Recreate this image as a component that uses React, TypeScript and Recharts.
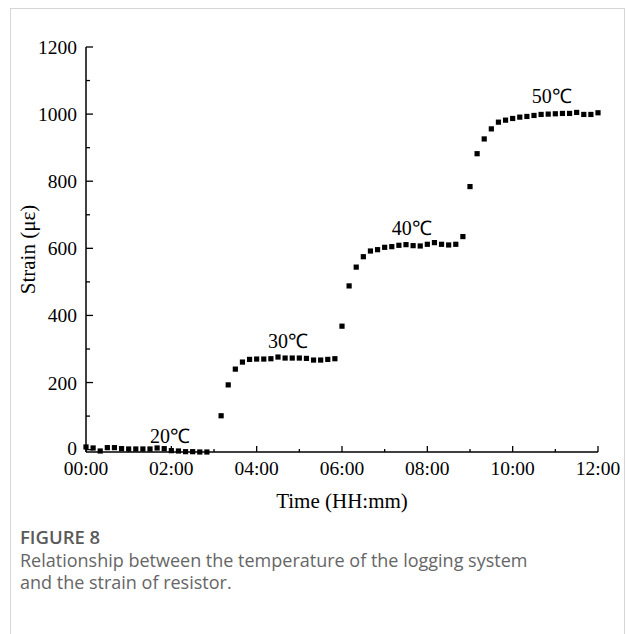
import React from "react";
import {
  ScatterChart,
  Scatter,
  XAxis,
  YAxis,
  ReferenceDot,
} from "recharts";

// time in minutes since 00:00 (the 03:00 reading is missing in the figure)
const timeMin = [
  0, 10, 20, 30, 40, 50, 60, 70, 80, 90, 100, 110, 120, 130, 140, 150, 160, 170,
  190, 200, 210, 220, 230, 240, 250, 260, 270, 280, 290, 300, 310, 320, 330, 340,
  350, 360, 370, 380, 390, 400, 410, 420, 430, 440, 450, 460, 470, 480, 490, 500,
  510, 520, 530, 540, 550, 560, 570, 580, 590, 600, 610, 620, 630, 640, 650, 660,
  670, 680, 690, 700, 710, 720,
];

const strain = [
  8, 5, -4, 6, 6, 3, 2, 2, 2, 2, 5, 3, -3, -4, -6, -6, -7, -7,
  101, 193, 240, 261, 269, 270, 270, 271, 276, 273, 273, 273, 272, 267, 267, 269,
  271, 368, 488, 544, 575, 592, 596, 603, 605, 609, 611, 608, 607, 612, 617, 612,
  610, 612, 635, 784, 882, 926, 956, 976, 982, 987, 991, 993, 996, 999, 1000, 1001,
  1002, 1002, 1005, 999, 999, 1004,
];

const xTicks = [0, 60, 120, 180, 240, 300, 360, 420, 480, 540, 600, 660, 720];
const yTicks = [0, 100, 200, 300, 400, 500, 600, 700, 800, 900, 1000, 1100, 1200];

const tempLabels = ["20\u2103", "30\u2103", "40\u2103", "50\u2103"];
const tempLabelX = [118, 284, 458, 655];
const tempLabelY = [42, 323, 661, 1055];

const points = timeMin.map((t, i) => ({ t, s: strain[i] }));

const serif = "'Liberation Serif', 'Times New Roman', serif";

const fmtTime = (m: number) => {
  const h = Math.floor(m / 60);
  const mm = m % 60;
  return `${String(h).padStart(2, "0")}:${String(mm).padStart(2, "0")}`;
};

const XTick = (props: any) => {
  const { x, y, payload } = props;
  const major = payload.value % 120 === 0;
  return (
    <g>
      <line x1={x} x2={x} y1={y} y2={y - (major ? 6 : 3)} stroke="#000" strokeWidth={1.3} />
      {major && (
        <text x={x} y={y + 23} textAnchor="middle" fontSize={19.5} fontFamily={serif} fill="#000">
          {fmtTime(payload.value)}
        </text>
      )}
    </g>
  );
};

const YTick = (props: any) => {
  const { x, y, payload } = props;
  const major = payload.value % 200 === 0;
  return (
    <g>
      <line x1={x} x2={x + (major ? 7 : 4)} y1={y} y2={y} stroke="#000" strokeWidth={1.3} />
      {major && (
        <text
          x={x - 9}
          y={y + (payload.value === 0 ? 5 : 7)}
          textAnchor="end"
          fontSize={19.5}
          fontFamily={serif}
          fill="#000"
        >
          {payload.value}
        </text>
      )}
    </g>
  );
};

const SquareDot = (props: any) => {
  const { cx, cy } = props;
  return <rect x={cx - 2.6} y={cy - 2.6} width={5.2} height={5.2} fill="#000" />;
};

export default function App() {
  return (
    <div
      style={{
        position: "absolute",
        left: 0,
        top: 0,
        width: 628,
        height: 634,
        overflow: "hidden",
        background: "#fff",
      }}
    >
      <div
        style={{
          position: "absolute",
          left: 10,
          top: 8,
          width: 613,
          height: 660,
          border: "1px solid #d6d6d6",
        }}
      />
      <div style={{ position: "absolute", left: 0, top: 0 }}>
        <ScatterChart
          width={628}
          height={520}
          margin={{ top: 47, right: 30, bottom: 0, left: 10 }}
        >
          <XAxis
            type="number"
            dataKey="t"
            domain={[0, 720]}
            ticks={xTicks}
            interval={0}
            tickSize={0}
            tickMargin={0}
            height={68}
            axisLine={{ stroke: "#000", strokeWidth: 1.5 }}
            tickLine={false}
            tick={<XTick />}
            label={{
              value: "Time (HH:mm)",
              position: "insideBottom",
              offset: 12,
              fontSize: 21,
              fontFamily: serif,
              fill: "#000",
            }}
          />
          <YAxis
            type="number"
            dataKey="s"
            domain={[0, 1200]}
            ticks={yTicks}
            interval={0}
            tickSize={0}
            tickMargin={0}
            width={76}
            axisLine={{ stroke: "#000", strokeWidth: 1.5 }}
            tickLine={false}
            tick={<YTick />}
            label={{
              value: "Strain (\u03bc\u03b5)",
              angle: -90,
              position: "insideLeft",
              offset: 18,
              fontSize: 21,
              fontFamily: serif,
              fill: "#000",
              style: { textAnchor: "middle" },
            }}
          />
          <Scatter data={points} shape={<SquareDot />} isAnimationActive={false} />
          {tempLabels.map((lab, i) => (
            <ReferenceDot
              key={lab}
              x={tempLabelX[i]}
              y={tempLabelY[i]}
              r={0}
              fill="none"
              stroke="none"
              ifOverflow="visible"
              label={{
                value: lab,
                position: "center",
                fontSize: 20,
                fontFamily: serif,
                fill: "#000",
              }}
            />
          ))}
        </ScatterChart>
      </div>
      <div
        style={{
          position: "absolute",
          left: 20,
          top: 525,
          fontFamily: "'Open Sans', 'Noto Sans', sans-serif",
          color: "#666",
        }}
      >
        <div style={{ fontSize: 18.5, fontWeight: 600, lineHeight: "24px", color: "#5a5a5a" }}>
          FIGURE 8
        </div>
        <div style={{ fontSize: 18, lineHeight: "22px" }}>
          Relationship between the temperature of the logging system
          <br />
          and the strain of resistor.
        </div>
      </div>
    </div>
  );
}
